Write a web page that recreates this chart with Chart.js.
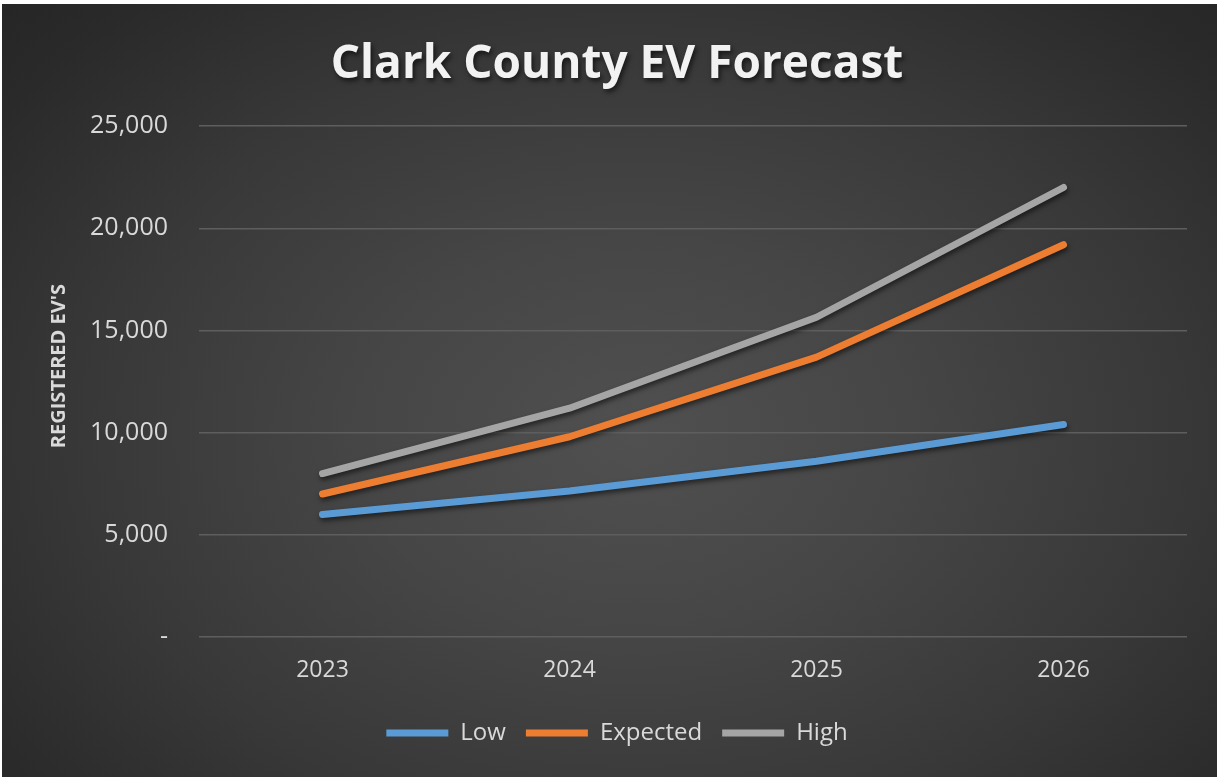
<!DOCTYPE html>
<html>
<head>
<meta charset="utf-8">
<script src="https://cdn.jsdelivr.net/npm/chart.js@4"></script>
<style>
  html, body { margin: 0; padding: 0; background: #ffffff; width: 1217px; height: 777px; overflow: hidden; }
  #wrap {
    position: absolute; left: 2px; top: 4px; width: 1215px; height: 773px;
    background: radial-gradient(ellipse 75% 85% at 52% 56%, #505050 0%, #464646 30%, #383838 60%, #2a2a2a 85%, #242424 100%);
  }
  canvas { display: block; }
</style>
</head>
<body>
<div id="wrap"><canvas id="c" width="1215" height="773"></canvas></div>
<script>
const titleText = "Clark County EV Forecast";
const yAxisTitle = "REGISTERED EV'S";
const categories = ["2023", "2024", "2025", "2026"];
const seriesNames = ["Low", "Expected", "High"];
const lowValues = [6000, 7150, 8600, 10400];
const expectedValues = [7000, 9800, 13700, 19200];
const highValues = [8000, 11200, 15650, 22000];
const yTicks = [0, 5000, 10000, 15000, 20000, 25000];
const seriesColors = ["#5B9BD5", "#ED7D31", "#A5A5A5"];

const FONT = "'Open Sans', 'DejaVu Sans', sans-serif";
const TEXT = "#d9d9d9";

function ds(label, data, color) {
  return {
    label, data,
    borderColor: color, backgroundColor: color,
    borderWidth: 7, borderCapStyle: 'round', borderJoinStyle: 'round',
    pointRadius: 0, pointHoverRadius: 0, tension: 0, fill: false
  };
}

const shadowPlugin = {
  id: 'shadows',
  beforeDatasetsDraw(chart) {
    const ctx = chart.ctx;
    ctx.save();
    ctx.shadowColor = 'rgba(0,0,0,0.55)';
    ctx.shadowBlur = 5;
    ctx.shadowOffsetX = 1;
    ctx.shadowOffsetY = 3;
  },
  afterDatasetsDraw(chart) { chart.ctx.restore(); },
  beforeDraw(chart) {
    const tb = chart.titleBlock;
    if (tb && !tb._shadowWrapped) {
      const orig = tb.draw.bind(tb);
      tb.draw = function () {
        const ctx = chart.ctx;
        ctx.save();
        ctx.shadowColor = 'rgba(0,0,0,0.6)';
        ctx.shadowBlur = 5;
        ctx.shadowOffsetX = 2;
        ctx.shadowOffsetY = 3;
        orig();
        ctx.restore();
      };
      tb._shadowWrapped = true;
    }
  }
};

new Chart(document.getElementById('c'), {
  type: 'line',
  data: {
    labels: categories,
    datasets: [
      ds(seriesNames[0], lowValues, seriesColors[0]),
      ds(seriesNames[1], expectedValues, seriesColors[1]),
      ds(seriesNames[2], highValues, seriesColors[2])
    ]
  },
  options: {
    responsive: false,
    animation: false,
    devicePixelRatio: 1,
    layout: { padding: { left: 45, right: 30, top: 14, bottom: 22 } },
    plugins: {
      title: {
        display: true, text: titleText, color: '#f2f2f2',
        font: { family: FONT, size: 46, weight: 'bold' },
        padding: { top: 19, bottom: 34 }
      },
      legend: {
        position: 'bottom',
        labels: {
          color: TEXT, font: { family: FONT, size: 24 },
          usePointStyle: true, pointStyle: 'line', pointStyleWidth: 62,
          boxWidth: 62, boxHeight: 24, padding: 20
        }
      },
      tooltip: { enabled: false }
    },
    scales: {
      x: {
        offset: true,
        afterFit(s) { s.height = 64; },
        grid: { display: false, drawTicks: false },
        border: { display: false },
        ticks: { color: TEXT, font: { family: FONT, size: 23 }, padding: 20 }
      },
      y: {
        min: 0, max: 25000,
        afterBuildTicks(s) { s.ticks = yTicks.map(v => ({ value: v })); },
        afterFit(s) { s.width = 152; },
        grid: { color: '#5e5e5e', lineWidth: 1.5, drawTicks: false },
        border: { display: false },
        ticks: {
          color: TEXT, font: { family: FONT, size: 25 }, padding: 31,
          callback: v => v === 0 ? '-' : v.toLocaleString('en-US')
        },
        title: {
          display: true, text: "      " + yAxisTitle, color: TEXT,
          font: { family: FONT, size: 20, weight: 'bold' }, padding: 0
        }
      }
    }
  },
  plugins: [shadowPlugin]
});
</script>
</body>
</html>
